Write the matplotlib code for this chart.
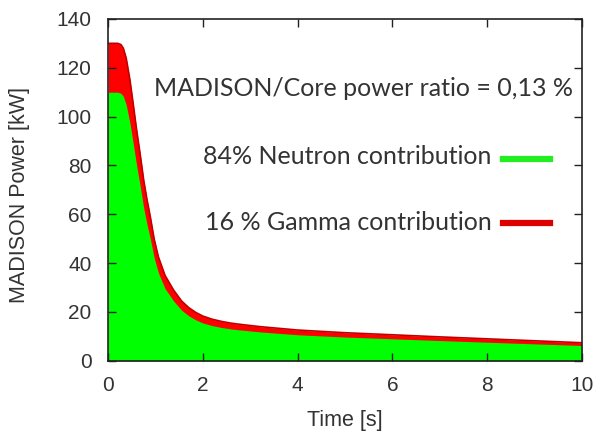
import numpy as np
import matplotlib.pyplot as plt

# total MADISON power (neutron + gamma)
time_s = [0.0, 0.1, 0.2, 0.27, 0.32, 0.38, 0.46, 0.53, 0.6, 0.68, 0.75, 0.82,
          0.89, 0.97, 1.06, 1.2, 1.38, 1.55, 1.7, 1.85, 2.0, 2.2, 2.4, 2.6,
          2.8, 3.2, 3.6, 4.0, 5.0, 5.95, 7.0, 8.0, 9.0, 10.0]
total_kw = [130, 130, 130, 129.5, 128, 124, 115, 105, 94.7, 84, 74, 66,
            59, 50, 42.6, 35, 29, 24.5, 21.8, 19.8, 18.3, 17.0, 16.1, 15.4,
            14.9, 14.0, 13.3, 12.6, 11.5, 10.7, 9.8, 9.0, 8.2, 7.4]
neutron_share = 0.846  # 110 / 130 at t = 0

t = np.array(time_s)
total = np.array(total_kw)
neutron = total * neutron_share

fig = plt.figure(figsize=(6.01, 4.40), dpi=100)
ax = fig.add_axes([0.18, 0.18, 0.788, 0.777])

ax.fill_between(t, 0, total, color='#ff0000', lw=0)
ax.plot(t, total, color='#c00000', lw=1.2)
ax.fill_between(t, 0, neutron, color='#00ff00', lw=0)

ax.set_xlim(0, 10)
ax.set_ylim(0, 140)
ax.set_xticks(np.arange(0, 11, 2))
ax.set_yticks(np.arange(0, 141, 20))
ax.tick_params(direction='in', top=True, right=True, length=6, width=1,
               colors='#222222')
ax.tick_params(axis='y', pad=12)
ax.tick_params(axis='x', pad=11)
for lab in ax.get_xticklabels() + ax.get_yticklabels():
    lab.set_family('Liberation Sans')
    lab.set_fontsize(15)
    lab.set_color('#333333')
for s in ax.spines.values():
    s.set_linewidth(1.2)
    s.set_color('#222222')

lf = dict(family='Liberation Sans', fontsize=15.5, color='#333333',
          ha='center', va='center')
fig.text(345 / 601, 1 - 420 / 440, 'Time [s]', **lf)
fig.text(20 / 601, 1 - 195 / 440, 'MADISON Power [kW]', rotation=90, **lf)

tf = dict(family='Lato', fontsize=18, color='#333333', va='center')
fig.text(0.953, 1 - 88 / 440, 'MADISON/Core power ratio = 0,13 %', ha='right', **tf)
fig.text(0.818, 1 - 157 / 440, '84% Neutron contribution', ha='right', **tf)
fig.text(0.818, 1 - 222 / 440, '16 % Gamma contribution', ha='right', **tf)
fig.add_artist(plt.Line2D([503 / 601, 550 / 601], [1 - 159 / 440] * 2,
                          color='#22ee22', lw=4.5))
fig.add_artist(plt.Line2D([503 / 601, 550 / 601], [1 - 223 / 440] * 2,
                          color='#dd0000', lw=4.5))

fig.savefig('out.png', dpi=100)
